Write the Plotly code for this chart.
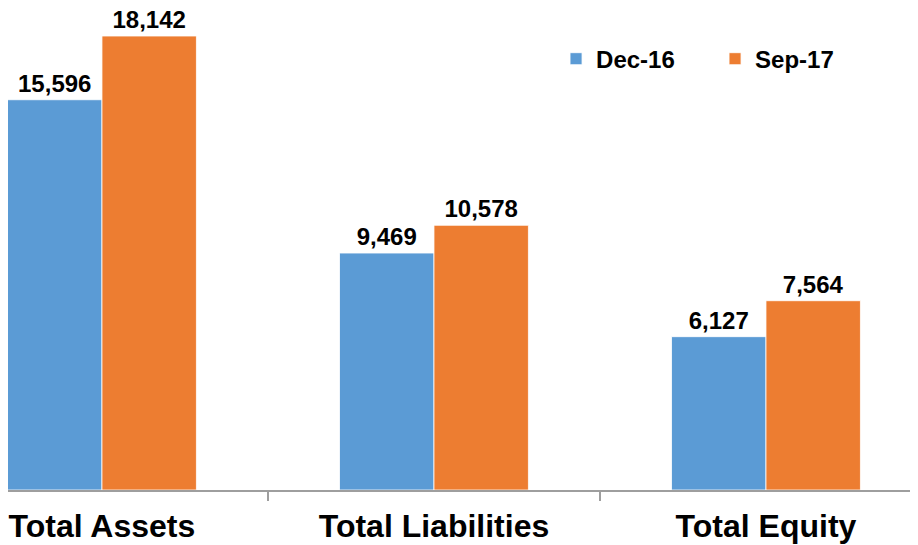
import plotly.graph_objects as go

categories = ["Total Assets", "Total Liabilities", "Total Equity"]
dec16 = [15596, 9469, 6127]
sep17 = [18142, 10578, 7564]
series_names = ["Dec-16", "Sep-17"]

BLUE = "#5B9BD5"
ORANGE = "#ED7D31"
FONT = "Liberation Sans, Arial, sans-serif"

fig = go.Figure()
for name, vals, col in [(series_names[0], dec16, BLUE), (series_names[1], sep17, ORANGE)]:
    fig.add_trace(go.Bar(
        x=categories, y=vals, name=name,
        marker=dict(color=col, line=dict(color="white", width=0.8)),
        text=[f"{v:,}" for v in vals],
        textposition="outside",
        textfont=dict(family=FONT, size=24, color="black", weight="bold"),
        cliponaxis=False,
        constraintext="none",
        hoverinfo="skip",
    ))

fig.update_layout(
    template="none",
    width=918, height=545,
    margin=dict(l=0, r=0, t=0, b=63),
    paper_bgcolor="white", plot_bgcolor="white",
    barmode="group", bargap=0.431, bargroupgap=0,
    font=dict(family=FONT, color="black"),
    showlegend=True,
    legend=dict(
        orientation="h",
        x=0.597, xanchor="left",
        y=0.894, yanchor="middle",
        entrywidth=114, entrywidthmode="pixels",
        font=dict(family=FONT, size=24, color="black", weight="bold"),
        bgcolor="rgba(0,0,0,0)",
        itemclick=False, itemdoubleclick=False,
    ),
    xaxis=dict(
        type="category",
        range=[-0.283, 2.482],
        showline=True, linecolor="#9E9E9E", linewidth=1.5,
        ticks="outside", tickson="boundaries", ticklen=9, tickcolor="#9E9E9E", tickwidth=1.5,
        ticklabelstandoff=7,
        tickfont=dict(family=FONT, size=32, color="black", weight="bold"),
        showgrid=False, zeroline=False, automargin=False,
    ),
    yaxis=dict(
        range=[0, 19261],
        visible=False, showgrid=False, zeroline=False, automargin=False,
    ),
)

fig.write_html("out.html")
